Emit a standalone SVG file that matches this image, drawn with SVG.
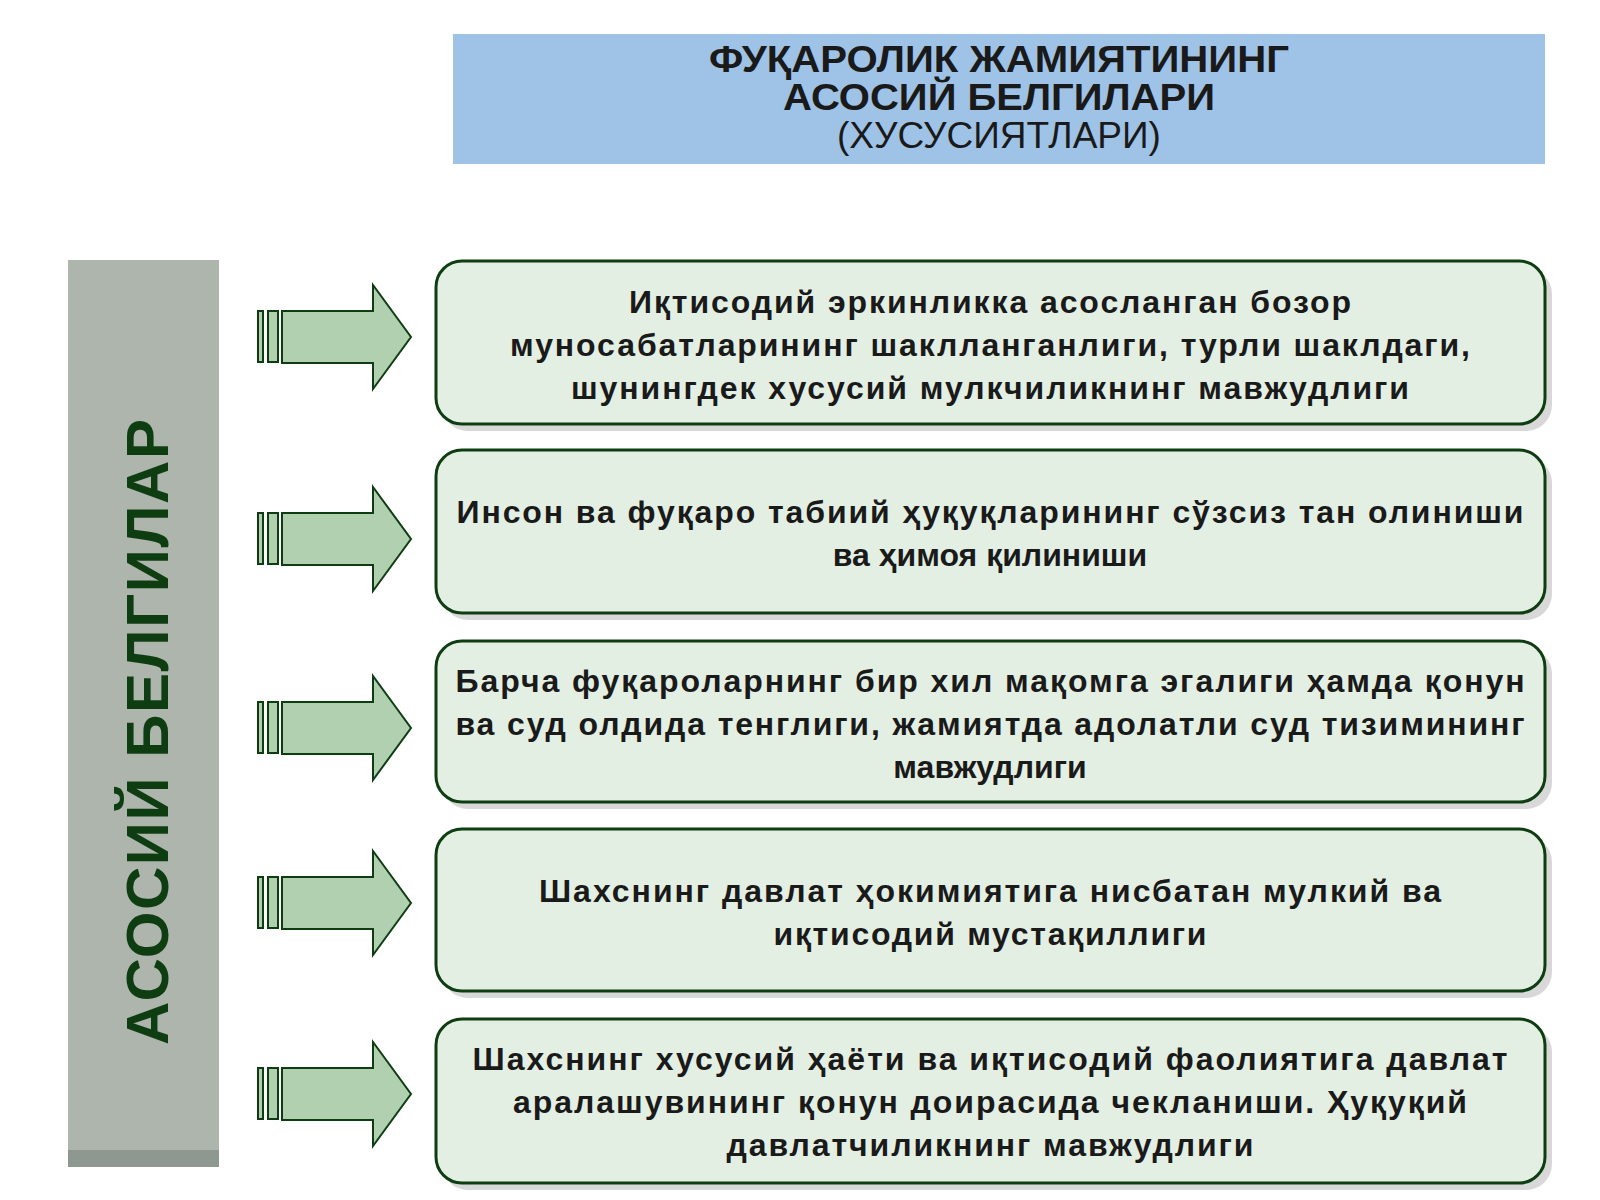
<svg xmlns="http://www.w3.org/2000/svg" width="1600" height="1200" viewBox="0 0 1600 1200">
<defs>
<style>
.box{fill:#e3efe3;stroke:#0f3d12;stroke-width:3}
.sh{fill:#d8d8d8}
.t{font-family:"Liberation Sans",Arial,sans-serif;font-weight:bold;font-size:32px;fill:#1a1a1a;text-anchor:middle}
.ar{fill:#b0d0b0;stroke:#0f3d12;stroke-width:2}
</style>
<g id="arrow"><rect class="ar" x="258" y="-26" width="5" height="51"/><rect class="ar" x="268" y="-26" width="10" height="51"/><path class="ar" d="M282,-26 H373 V-52 L411,0 L373,52 V26 H282 Z"/></g>
</defs>
<rect width="1600" height="1200" fill="#fff"/>
<g id="title"><rect x="453" y="34" width="1092" height="130" fill="#9fc3e6"/>
<text class="t" x="999" y="72" style="font-size:37px" textLength="580" lengthAdjust="spacingAndGlyphs">ФУҚАРОЛИК ЖАМИЯТИНИНГ</text>
<text class="t" x="999" y="110" style="font-size:37px" textLength="432" lengthAdjust="spacingAndGlyphs">АСОСИЙ БЕЛГИЛАРИ</text>
<text class="t" x="999" y="148" style="font-size:37px;font-weight:normal">(ХУСУСИЯТЛАРИ)</text></g>
<g id="side"><rect x="68" y="1145" width="151" height="22" fill="#8e9890"/><rect x="68" y="260" width="151" height="890" fill="#adb5ad"/>
<text class="t" transform="translate(168,732) rotate(-90)" style="font-size:60px;fill:#0f3d12" textLength="626">АСОСИЙ БЕЛГИЛАР</text></g>
<g id="connectors"><use href="#arrow" y="337"/><use href="#arrow" y="539"/><use href="#arrow" y="728"/><use href="#arrow" y="903"/><use href="#arrow" y="1094"/></g>
<g id="n1"><rect class="sh" x="442" y="268" width="1110" height="163" rx="26"/><rect class="box" x="436" y="261" width="1109" height="163" rx="26"/>
<text class="t" x="990" y="313" textLength="722">Иқтисодий эркинликка асосланган бозор</text><text class="t" x="990" y="356" textLength="960">муносабатларининг шаклланганлиги, турли шаклдаги,</text><text class="t" x="990" y="399" textLength="838">шунингдек хусусий мулкчиликнинг мавжудлиги</text></g>
<g id="n2"><rect class="sh" x="442" y="457" width="1110" height="163" rx="26"/><rect class="box" x="436" y="450" width="1109" height="163" rx="26"/>
<text class="t" x="990" y="523" textLength="1067">Инсон ва фуқаро табиий ҳуқуқларининг сўзсиз тан олиниши</text><text class="t" x="990" y="566">ва ҳимоя қилиниши</text></g>
<g id="n3"><rect class="sh" x="442" y="648" width="1110" height="161" rx="26"/><rect class="box" x="436" y="641" width="1109" height="161" rx="26"/>
<text class="t" x="990" y="692" textLength="1069">Барча фуқароларнинг бир хил мақомга эгалиги ҳамда қонун</text><text class="t" x="990" y="735" textLength="1069">ва суд олдида тенглиги, жамиятда адолатли суд тизимининг</text><text class="t" x="990" y="778">мавжудлиги</text></g>
<g id="n4"><rect class="sh" x="442" y="836" width="1110" height="162" rx="26"/><rect class="box" x="436" y="829" width="1109" height="162" rx="26"/>
<text class="t" x="990" y="902" textLength="902">Шахснинг давлат ҳокимиятига нисбатан мулкий ва</text><text class="t" x="990" y="945" textLength="433">иқтисодий мустақиллиги</text></g>
<g id="n5"><rect class="sh" x="442" y="1026" width="1110" height="164" rx="26"/><rect class="box" x="436" y="1019" width="1109" height="164" rx="26"/>
<text class="t" x="990" y="1070" textLength="1035">Шахснинг хусусий ҳаёти ва иқтисодий фаолиятига давлат</text><text class="t" x="990" y="1113" textLength="954">аралашувининг қонун доирасида чекланиши. Ҳуқуқий</text><text class="t" x="990" y="1156" textLength="527">давлатчиликнинг мавжудлиги</text></g>
</svg>
